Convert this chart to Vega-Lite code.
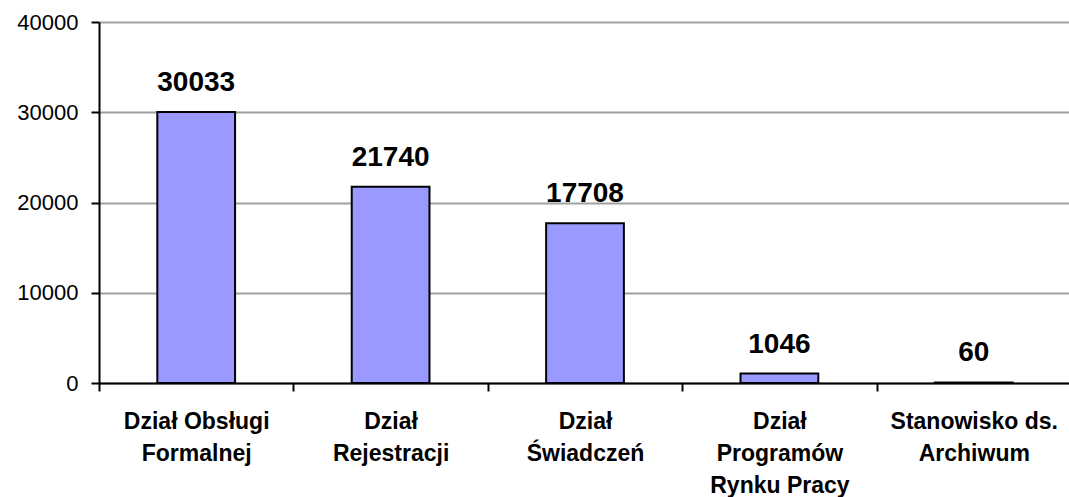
{
  "$schema": "https://vega.github.io/schema/vega-lite/v6.json",
  "autosize": {"type": "none"},
  "padding": {"left": 99, "top": 22, "right": 0, "bottom": 114},
  "width": 972,
  "height": 361,
  "background": "white",
  "config": {"view": {"stroke": null}, "font": "Liberation Sans"},
  "data": {"values": [
    {"dzial": "Dział Obsługi Formalnej", "liczba": 30033},
    {"dzial": "Dział Rejestracji", "liczba": 21740},
    {"dzial": "Dział Świadczeń", "liczba": 17708},
    {"dzial": "Dział Programów Rynku Pracy", "liczba": 1046},
    {"dzial": "Stanowisko ds. Archiwum", "liczba": 60}
  ]},
  "encoding": {
    "x": {
      "field": "dzial", "type": "nominal", "sort": null,
      "scale": {"paddingInner": 0, "paddingOuter": 0},
      "axis": {
        "title": null, "labelAngle": 0, "labelFont": "Liberation Sans", "labelFontSize": 23, "labelFontWeight": "bold", "labelColor": "black",
        "labelLineHeight": 32, "labelPadding": 19, "labelLimit": 300,
        "labelExpr": "datum.value == 'Dział Obsługi Formalnej' ? ['Dział Obsługi','Formalnej'] : datum.value == 'Dział Rejestracji' ? ['Dział','Rejestracji'] : datum.value == 'Dział Świadczeń' ? ['Dział','Świadczeń'] : datum.value == 'Dział Programów Rynku Pracy' ? ['Dział','Programów','Rynku Pracy'] : datum.value == 'Stanowisko ds. Archiwum' ? ['Stanowisko ds.','Archiwum'] : ''",
        "tickBand": "extent", "tickSize": 8, "tickColor": "black", "tickWidth": 2,
        "domainColor": "black", "domainWidth": 2, "grid": false
      }
    },
    "y": {
      "field": "liczba", "type": "quantitative",
      "scale": {"domain": [0, 40000], "nice": false},
      "axis": {
        "title": null, "values": [0, 10000, 20000, 30000, 40000], "format": "d",
        "labelFont": "Liberation Sans", "labelFontSize": 22, "labelColor": "black", "labelPadding": 13,
        "tickSize": 8, "tickColor": "black", "tickWidth": 2,
        "domainColor": "black", "domainWidth": 2,
        "grid": true, "gridColor": "#a0a0a0", "gridWidth": 2
      }
    }
  },
  "layer": [
    {"mark": {"type": "bar", "fill": "#9999ff", "stroke": "black", "strokeWidth": 2, "width": {"band": 0.4}}},
    {"mark": {"type": "text", "font": "Liberation Sans", "fontSize": 28, "fontWeight": "bold", "baseline": "alphabetic", "dy": -21, "color": "black"},
     "encoding": {"text": {"field": "liczba", "type": "quantitative", "format": "d"}}}
  ]
}
